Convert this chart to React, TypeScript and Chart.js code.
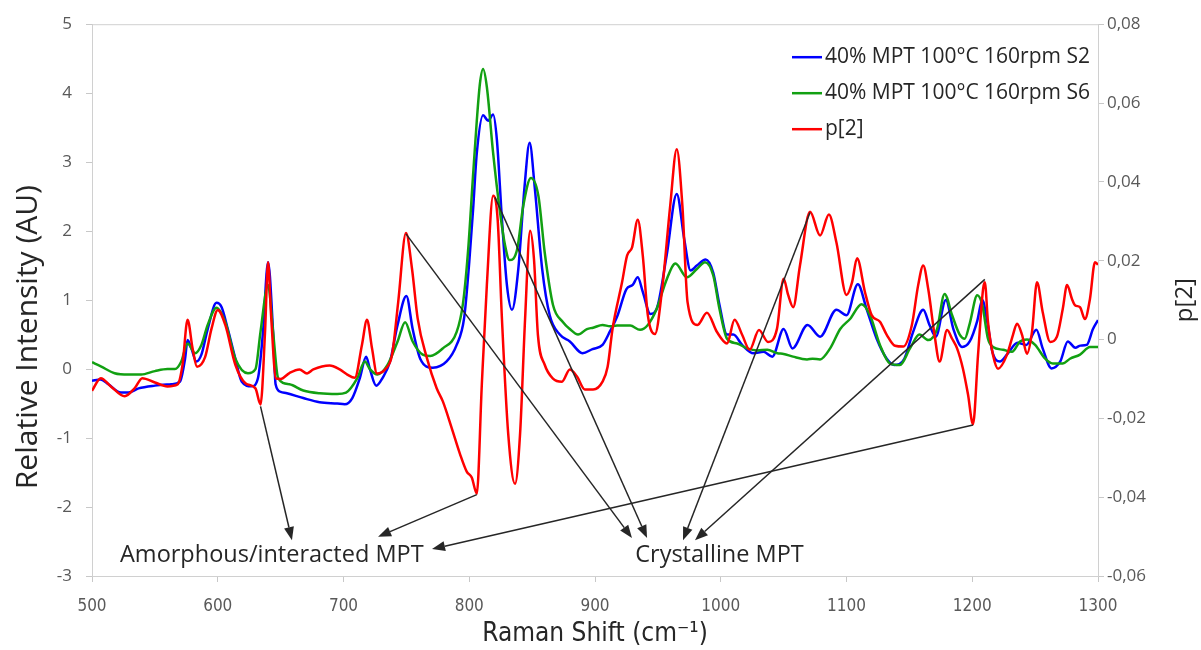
import React, { useEffect, useRef } from "react";
import { Chart, registerables } from "chart.js";

Chart.register(...registerables);

const seriesLabels = ["40% MPT 100°C 160rpm S2", "40% MPT 100°C 160rpm S6", "p[2]"];
const seriesColors = ["#0000FF", "#12A012", "#FF0000"];

const s2X = [500, 507, 513, 523, 529, 537, 550, 563, 570, 574, 576, 579, 583, 587, 592, 599, 603, 608, 614, 619, 627, 632, 636, 640, 644, 646, 650, 655, 668, 681, 695, 701, 707, 713, 718, 721, 726, 731, 737, 743, 750, 755, 761, 771, 782, 790, 796, 800, 803, 806, 811, 815, 819, 822, 826, 830, 834, 839, 844, 848, 852, 858, 864, 872, 880, 890, 898, 906, 912, 918, 925, 930, 934, 938, 944, 949, 957, 965, 971, 976, 981, 988, 994, 999, 1005, 1010, 1017, 1026, 1034, 1041, 1050, 1057, 1069, 1079, 1092, 1100, 1109, 1116, 1124, 1132, 1138, 1146, 1153, 1161, 1166, 1171, 1179, 1185, 1192, 1198, 1204, 1208, 1212, 1216, 1222, 1228, 1236, 1243, 1251, 1256, 1263, 1270, 1276, 1282, 1286, 1291, 1296, 1300];
const s2Y = [-0.17, -0.15, -0.22, -0.34, -0.34, -0.28, -0.24, -0.22, -0.18, 0.15, 0.42, 0.3, 0.11, 0.21, 0.58, 0.96, 0.9, 0.58, 0.15, -0.18, -0.25, -0.13, 0.54, 1.55, 0.54, -0.22, -0.33, -0.35, -0.42, -0.48, -0.5, -0.51, -0.42, -0.13, 0.18, 0.0, -0.24, -0.13, 0.11, 0.64, 1.06, 0.58, 0.15, 0.02, 0.11, 0.35, 0.75, 1.55, 2.3, 3.13, 3.68, 3.6, 3.69, 3.32, 2.17, 1.21, 0.86, 1.45, 2.65, 3.28, 2.65, 1.45, 0.78, 0.5, 0.4, 0.23, 0.29, 0.35, 0.55, 0.78, 1.16, 1.22, 1.33, 1.12, 0.8, 0.87, 1.65, 2.54, 1.88, 1.43, 1.5, 1.59, 1.4, 0.93, 0.5, 0.5, 0.35, 0.23, 0.25, 0.18, 0.58, 0.3, 0.64, 0.47, 0.86, 0.78, 1.23, 0.87, 0.44, 0.15, 0.06, 0.15, 0.54, 0.86, 0.64, 0.47, 1.0, 0.58, 0.32, 0.4, 0.7, 1.0, 0.68, 0.25, 0.11, 0.22, 0.38, 0.35, 0.57, 0.3, 0.01, 0.11, 0.4, 0.31, 0.34, 0.35, 0.58, 0.71];

const s6X = [500, 507, 518, 529, 539, 550, 560, 566, 571, 576, 582, 587, 592, 599, 606, 614, 624, 630, 634, 640, 644, 648, 657, 668, 681, 695, 702, 711, 717, 721, 727, 735, 743, 749, 755, 763, 769, 779, 790, 795, 799, 803, 806, 808.5, 811, 814, 819, 824.5, 828.5, 832, 838, 843, 849, 855, 860, 866.6, 874.6, 880, 886.5, 893.6, 898.5, 906, 912, 917.5, 928, 935.8, 942, 949, 957, 964, 973, 981, 987.5, 994, 999, 1005, 1013, 1021, 1029, 1037, 1045, 1050, 1057.5, 1068.6, 1073, 1079, 1087, 1095, 1103, 1112, 1118.7, 1126.6, 1134.6, 1142.5, 1150.5, 1158, 1165, 1172, 1178, 1184, 1190, 1194, 1198, 1204, 1208, 1212.5, 1216.5, 1224.5, 1231.6, 1238, 1243.5, 1250, 1258, 1264, 1272, 1277.7, 1285.7, 1293.6, 1300];
const s6Y = [0.1, 0.04, -0.06, -0.08, -0.08, -0.03, 0.0, 0.0, 0.11, 0.37, 0.23, 0.35, 0.64, 0.89, 0.68, 0.15, -0.06, 0.0, 0.54, 1.22, 0.54, -0.13, -0.22, -0.31, -0.35, -0.36, -0.34, -0.13, 0.11, 0.0, -0.08, 0.06, 0.4, 0.68, 0.4, 0.21, 0.19, 0.3, 0.54, 0.95, 1.7, 2.8, 3.6, 4.14, 4.35, 4.09, 3.13, 2.27, 1.79, 1.58, 1.73, 2.37, 2.77, 2.51, 1.69, 0.93, 0.68, 0.58, 0.5, 0.58, 0.6, 0.64, 0.62, 0.63, 0.63, 0.57, 0.64, 0.87, 1.3, 1.53, 1.33, 1.45, 1.55, 1.36, 0.87, 0.44, 0.37, 0.3, 0.27, 0.28, 0.23, 0.22, 0.18, 0.14, 0.15, 0.14, 0.3, 0.58, 0.73, 0.94, 0.78, 0.35, 0.08, 0.06, 0.3, 0.5, 0.42, 0.58, 1.09, 0.78, 0.5, 0.44, 0.66, 1.07, 0.93, 0.44, 0.32, 0.28, 0.25, 0.4, 0.43, 0.35, 0.15, 0.08, 0.08, 0.15, 0.21, 0.32, 0.32];

const p2X = [500, 507, 515, 526, 534, 540, 550, 560, 568, 572, 576, 580, 583.5, 590, 595, 600, 606, 614, 622, 630, 634, 637.6, 640, 642.4, 646.3, 650, 657, 665, 671, 676, 689, 697, 703, 709, 714.7, 718.7, 722.7, 726.6, 733, 738.6, 743.5, 749.7, 754.5, 759, 766.4, 774, 779, 786, 792.6, 798, 802, 806, 810, 814, 819, 822.6, 826, 831, 836.4, 840.4, 844.4, 848.4, 851.5, 854.6, 860, 866.6, 873.7, 880, 885.7, 892, 898.5, 906, 910, 914, 921.5, 925.5, 929.5, 934, 938, 942, 947.7, 953.4, 959.8, 965, 969.5, 973.6, 981.5, 989, 997, 1005, 1011, 1017, 1023, 1030.4, 1037.6, 1044.7, 1050, 1053.6, 1057.6, 1063, 1071, 1079, 1086, 1092, 1100, 1104.4, 1108.4, 1114.7, 1120, 1126.6, 1132, 1138.6, 1145, 1152, 1157, 1161, 1165, 1170, 1174, 1180, 1184, 1188, 1192.6, 1196.6, 1200.6, 1204.6, 1208.6, 1210, 1212.5, 1216.5, 1220.5, 1227.6, 1232.4, 1235.6, 1239.6, 1243.5, 1247.5, 1251.5, 1256, 1262, 1267.3, 1272, 1275.4, 1279.3, 1281.7, 1285.7, 1289.6, 1293.6, 1297.6, 1300];
const p2Y = [-0.013, -0.0098, -0.0119, -0.0144, -0.0123, -0.0098, -0.0109, -0.0119, -0.0114, -0.0064, 0.005, -0.0023, -0.0069, -0.0044, 0.0027, 0.0075, 0.0037, -0.0064, -0.0111, -0.0124, -0.0165, 0.0019, 0.0196, 0.0062, -0.0099, -0.01, -0.0085, -0.0076, -0.0086, -0.0076, -0.0066, -0.0076, -0.0089, -0.0097, -0.0013, 0.005, -0.0023, -0.0086, -0.0076, -0.0039, 0.0095, 0.027, 0.0179, 0.0053, -0.0048, -0.0123, -0.0157, -0.0224, -0.029, -0.0335, -0.035, -0.0391, -0.0114, 0.0138, 0.0365, 0.0304, 0.0052, -0.024, -0.0366, -0.024, 0.0052, 0.0276, 0.0203, 0.0012, -0.0064, -0.0099, -0.0107, -0.0076, -0.0094, -0.0127, -0.0127, -0.0107, -0.007, 0.0028, 0.0145, 0.0213, 0.0234, 0.0304, 0.0213, 0.0062, 0.0014, 0.0128, 0.0339, 0.0483, 0.0339, 0.0095, 0.0037, 0.0068, 0.0019, -0.001, 0.005, 0.0012, -0.0026, 0.0024, -0.0006, 0.0027, 0.0154, 0.0113, 0.0082, 0.0188, 0.0324, 0.0264, 0.0317, 0.0246, 0.0113, 0.0145, 0.0206, 0.012, 0.0062, 0.0045, 0.0012, -0.0016, -0.0018, 0.0037, 0.0138, 0.0188, 0.0128, 0.0012, -0.0056, 0.0024, 0.0002, -0.0023, -0.0074, -0.0139, -0.0215, -0.0039, 0.0128, 0.0145, 0.0045, -0.0039, -0.0074, -0.0039, 0.0012, 0.004, 0.0012, -0.0036, 0.0019, 0.0145, 0.007, -0.0006, 0.0007, 0.0078, 0.0138, 0.0103, 0.0087, 0.0082, 0.0052, 0.0103, 0.0196, 0.019];

const noteTexts = ["Amorphous/interacted MPT", "Crystalline MPT"];
const noteX = [643, 999];
const noteY = [-2.7, -2.7];

const arrowFromX = [634, 806, 1200.6, 749.7, 820.5, 1071, 1210];
const arrowFromY = [-0.54, -1.82, -0.81, 1.96, 2.49, 2.27, 1.3];
const arrowToX = [659, 727.5, 770.4, 929.4, 941.4, 970, 979.5];
const arrowToY = [-2.48, -2.43, -2.61, -2.45, -2.45, -2.48, -2.48];

const FONT = "'Open Sans', 'DejaVu Sans', sans-serif";
const NARROW = "'Liberation Sans Narrow', 'DejaVu Sans Condensed', 'Open Sans', sans-serif";

const pts = (xs: number[], ys: number[]) => xs.map((x, i) => ({ x, y: ys[i] }));

const extrasPlugin = {
  id: "extras",
  beforeDatasetsDraw(chart: any) {
    const { ctx, chartArea } = chart;
    ctx.save();
    ctx.strokeStyle = "#d0d0d0";
    ctx.lineWidth = 1;
    ctx.strokeRect(chartArea.left + 0.5, chartArea.top + 0.5, chartArea.right - chartArea.left, chartArea.bottom - chartArea.top);
    ctx.restore();
  },
  afterDraw(chart: any) {
    const { ctx, chartArea, scales } = chart;
    const xs = scales.x;
    const ys = scales.y;
    ctx.save();
    // arrows
    ctx.strokeStyle = "#262626";
    ctx.fillStyle = "#262626";
    ctx.lineWidth = 1.5;
    for (let i = 0; i < arrowFromX.length; i++) {
      const x1 = xs.getPixelForValue(arrowFromX[i]);
      const y1 = ys.getPixelForValue(arrowFromY[i]);
      const x2 = xs.getPixelForValue(arrowToX[i]);
      const y2 = ys.getPixelForValue(arrowToY[i]);
      const ang = Math.atan2(y2 - y1, x2 - x1);
      const hl = 13;
      const hw = 5;
      const bx = x2 - hl * Math.cos(ang);
      const by = y2 - hl * Math.sin(ang);
      ctx.beginPath();
      ctx.moveTo(x1, y1);
      ctx.lineTo(bx, by);
      ctx.stroke();
      ctx.beginPath();
      ctx.moveTo(x2, y2);
      ctx.lineTo(bx + hw * Math.sin(ang), by - hw * Math.cos(ang));
      ctx.lineTo(bx - hw * Math.sin(ang), by + hw * Math.cos(ang));
      ctx.closePath();
      ctx.fill();
    }
    // notes
    ctx.font = `23.5px ${FONT}`;
    ctx.fillStyle = "#262626";
    ctx.textAlign = "center";
    ctx.textBaseline = "middle";
    for (let i = 0; i < noteTexts.length; i++) {
      ctx.fillText(noteTexts[i], xs.getPixelForValue(noteX[i]), ys.getPixelForValue(noteY[i]));
    }
    // legend
    ctx.font = `21px ${FONT}`;
    ctx.textAlign = "left";
    const lx = chartArea.right - 306;
    for (let i = 0; i < seriesLabels.length; i++) {
      const ly = chartArea.top + 33 + i * 36;
      ctx.strokeStyle = seriesColors[i];
      ctx.lineWidth = 2.5;
      ctx.beginPath();
      ctx.moveTo(lx, ly);
      ctx.lineTo(lx + 30, ly);
      ctx.stroke();
      ctx.fillStyle = "#262626";
      ctx.fillText(seriesLabels[i], lx + 33, ly);
    }
    ctx.textAlign = "center";
    ctx.fillStyle = "#262626";
    // left axis title
    ctx.save();
    ctx.font = `30px ${FONT}`;
    ctx.translate(28, (chartArea.top + chartArea.bottom) / 2 + 37);
    ctx.rotate(-Math.PI / 2);
    ctx.fillText("Relative Intensity (AU)", 0, 0);
    ctx.restore();
    // right axis title
    ctx.font = `24px ${FONT}`;
    ctx.translate(chartArea.right + 87, (chartArea.top + chartArea.bottom) / 2);
    ctx.rotate(-Math.PI / 2);
    ctx.fillText("p[2]", 0, 0);
    ctx.restore();
  },
};

export default function App() {
  const ref = useRef<HTMLCanvasElement>(null);
  useEffect(() => {
    document.body.style.margin = "0";
    const canvas = ref.current!;
    const tickColor = "#595959";
    const axisColor = "#c8c8c8";
    const chart = new Chart(canvas, {
      type: "line",
      data: {
        datasets: [
          { label: seriesLabels[0], data: pts(s2X, s2Y), borderColor: seriesColors[0], borderWidth: 2.5, pointRadius: 0, cubicInterpolationMode: "monotone", yAxisID: "y", order: 2 },
          { label: seriesLabels[1], data: pts(s6X, s6Y), borderColor: seriesColors[1], borderWidth: 2.5, pointRadius: 0, cubicInterpolationMode: "monotone", yAxisID: "y", order: 1 },
          { label: seriesLabels[2], data: pts(p2X, p2Y), borderColor: seriesColors[2], borderWidth: 2.5, pointRadius: 0, cubicInterpolationMode: "monotone", yAxisID: "y1", order: 0 },
        ],
      } as any,
      options: {
        animation: false,
        responsive: false,
        layout: { padding: { top: 20, left: 0, right: 0, bottom: 0 } },
        plugins: { legend: { display: false }, tooltip: { enabled: false } },
        scales: {
          x: {
            type: "linear",
            min: 500,
            max: 1300,
            afterFit: (s: any) => { s.height = 74; },
            ticks: { stepSize: 100, color: tickColor, padding: 14, font: { size: 17, family: NARROW }, callback: (v: any) => String(v) },
            grid: { drawOnChartArea: false, drawTicks: true, tickLength: 6, color: axisColor },
            border: { display: true, color: axisColor },
            title: { display: true, text: "Raman Shift (cm⁻¹)", color: "#262626", font: { size: 26, family: NARROW }, padding: { top: 0, bottom: 0 } },
          },
          y: {
            position: "left",
            min: -3,
            max: 5,
            afterFit: (s: any) => { s.width = 92; },
            ticks: { stepSize: 1, color: tickColor, padding: 14, font: { size: 17, family: FONT }, callback: (v: any) => String(v) },
            grid: { drawOnChartArea: false, drawTicks: true, tickLength: 6, color: axisColor },
            border: { display: true, color: axisColor },
          },
          y1: {
            position: "right",
            min: -0.06,
            max: 0.08,
            afterFit: (s: any) => { s.width = 103; },
            ticks: {
              stepSize: 0.02,
              color: tickColor,
              padding: 3,
              font: { size: 17, family: FONT },
              callback: (v: any) => (Math.abs(v) < 1e-9 ? "0" : Number(v).toFixed(2).replace(".", ",")),
            },
            grid: { drawOnChartArea: false, drawTicks: true, tickLength: 6, color: axisColor },
            border: { display: true, color: axisColor },
          },
        },
      } as any,
      plugins: [extrasPlugin],
    });
    return () => chart.destroy();
  }, []);
  return (
    <div style={{ width: 1201, height: 650, background: "#fff" }}>
      <canvas ref={ref} width={1201} height={650} style={{ display: "block" }} />
    </div>
  );
}
